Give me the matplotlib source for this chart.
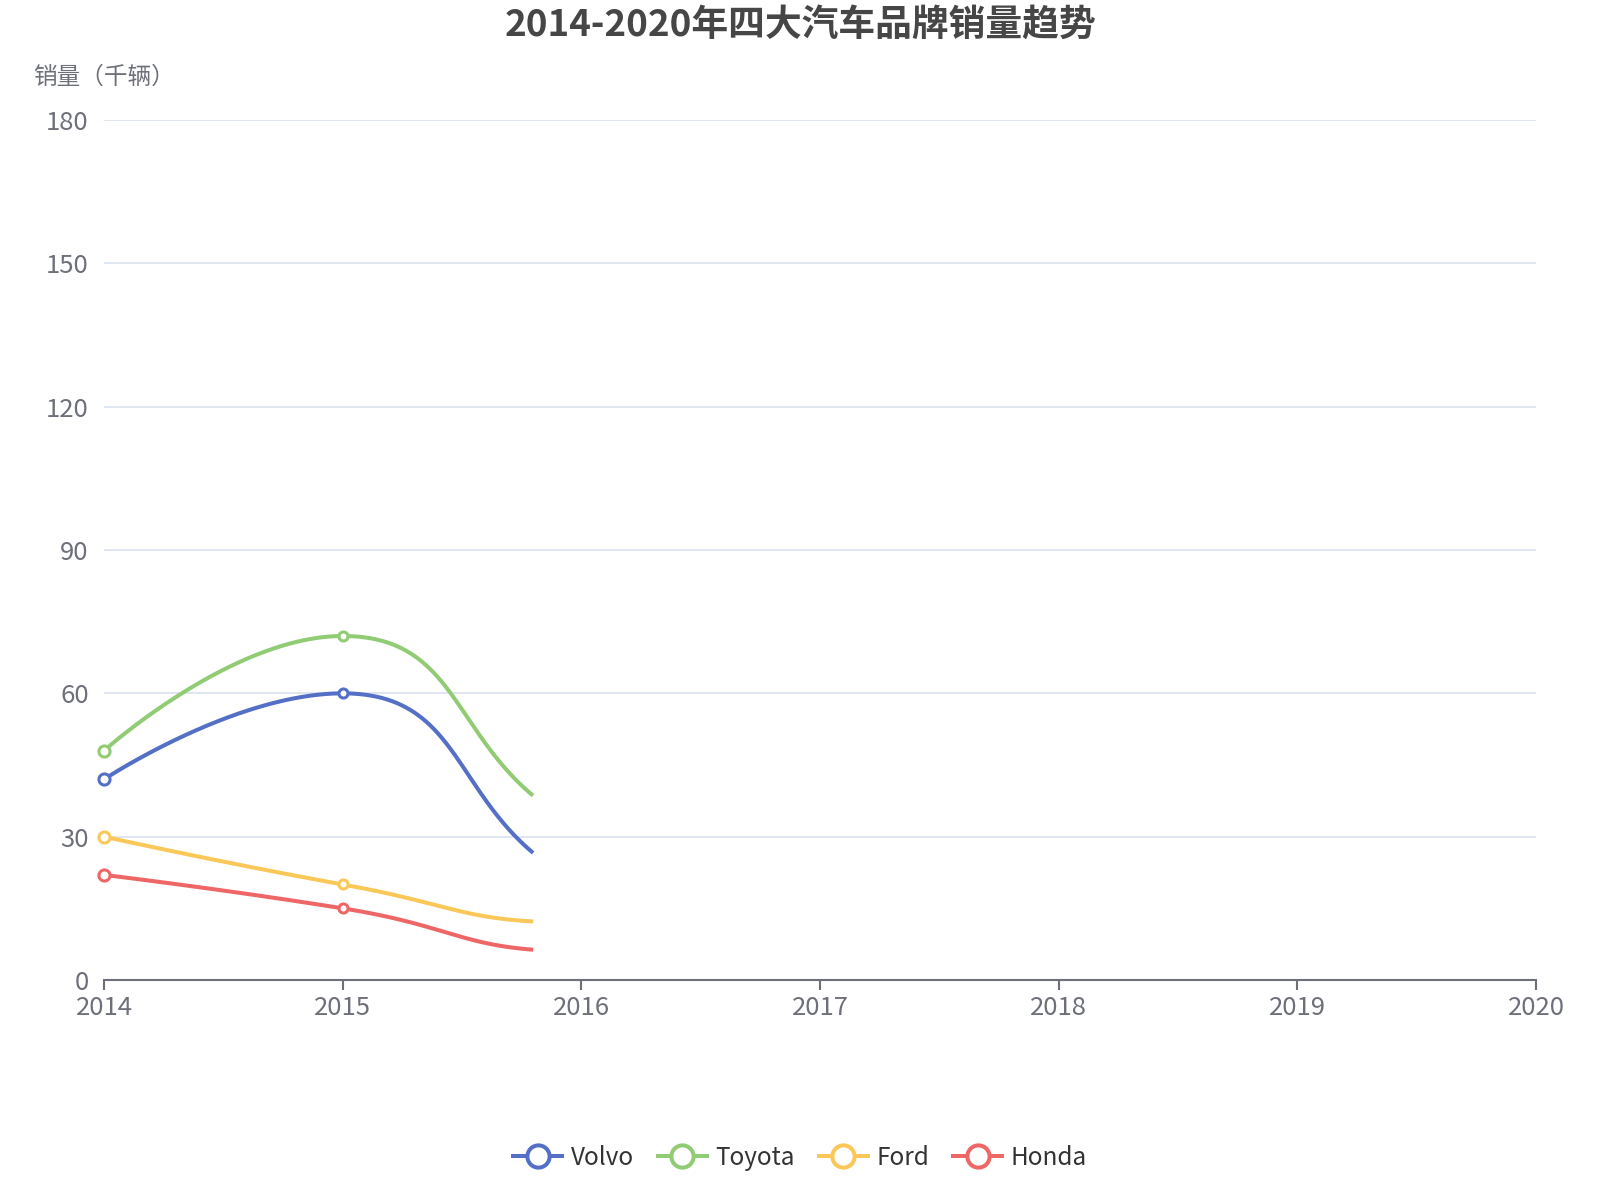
import numpy as np
import matplotlib
matplotlib.use("Agg")
import matplotlib.pyplot as plt
from matplotlib.lines import Line2D

plt.rcParams['font.family'] = ['Noto Sans CJK SC', 'DejaVu Sans']

# ---- data ----
title = "2014-2020年四大汽车品牌销量趋势"
y_name = "销量（千辆）"
years = [2014, 2015, 2016, 2017]
series_names = ["Volvo", "Toyota", "Ford", "Honda"]
volvo = [42, 60, 20, 10]
toyota = [48, 72, 32, 22]
ford = [30, 20, 12, 15]
honda = [22, 15, 6, 9]
x_ticks = [2014, 2015, 2016, 2017, 2018, 2019, 2020]
y_ticks = [0, 30, 60, 90, 120, 150, 180]
reveal_until = 2015.8  # line drawing (animation) stopped here in the reference

colors = ["#5470c6", "#91cc75", "#fac858", "#ee6666"]
values = [volvo, toyota, ford, honda]

W, H = 1600, 1200
fig = plt.figure(figsize=(16, 12), dpi=100)
fig.patch.set_facecolor("white")
left, right, bottom, top = 104 / W, 1536 / W, 1 - 980 / H, 1 - 120 / H
ax = fig.add_axes([left, bottom, right - left, top - bottom])
ax.set_xlim(x_ticks[0], x_ticks[-1])
ax.set_ylim(y_ticks[0], y_ticks[-1])

# pixel scales for ECharts-like smoothing
sx = (right - left) * W / (x_ticks[-1] - x_ticks[0])
sy = (top - bottom) * H / (y_ticks[-1] - y_ticks[0])


def smooth_curve(xs, ys, smooth=0.5, n=400):
    X = np.asarray(xs, float) * sx
    Y = np.asarray(ys, float) * sy
    m = len(X)
    cin = [None] * m
    cout = [None] * m
    for i in range(m):
        if i == 0 or i == m - 1:
            cin[i] = cout[i] = (X[i], Y[i])
            continue
        vx = X[i + 1] - X[i - 1]
        vy = Y[i + 1] - Y[i - 1]
        if (Y[i] - Y[i - 1]) * (Y[i + 1] - Y[i]) <= 0:
            vy = 0.0
        l0 = np.hypot(X[i] - X[i - 1], Y[i] - Y[i - 1])
        l1 = np.hypot(X[i + 1] - X[i], Y[i + 1] - Y[i])
        r = l1 / (l0 + l1)
        cout[i] = (X[i] + vx * smooth * r, Y[i] + vy * smooth * r)
        cin[i] = (X[i] - vx * smooth * (1 - r), Y[i] - vy * smooth * (1 - r))
    px, py = [], []
    t = np.linspace(0, 1, n)
    for i in range(m - 1):
        p0 = np.array([X[i], Y[i]])
        p1 = np.array(cout[i])
        p2 = np.array(cin[i + 1])
        p3 = np.array([X[i + 1], Y[i + 1]])
        b = ((1 - t) ** 3)[:, None] * p0 + (3 * (1 - t) ** 2 * t)[:, None] * p1 \
            + (3 * (1 - t) * t ** 2)[:, None] * p2 + (t ** 3)[:, None] * p3
        px.append(b[:, 0])
        py.append(b[:, 1])
    return np.concatenate(px) / sx, np.concatenate(py) / sy


for name, vals, c in zip(series_names, values, colors):
    cx, cy = smooth_curve(years, vals)
    keep = cx <= reveal_until
    ax.plot(cx[keep], cy[keep], color=c, lw=2.9, solid_capstyle='butt',
            solid_joinstyle='round', zorder=3)
    yr = np.asarray(years)
    vv = np.asarray(vals)
    mk = yr <= reveal_until
    sizes = [8.0 if y == years[0] else 6.5 for y in yr[mk]]
    for xv, yv, s in zip(yr[mk], vv[mk], sizes):
        ax.plot([xv], [yv], linestyle='none', marker='o', ms=s,
                mfc='white', mec=c, mew=2.2, zorder=4, clip_on=False)

# axes styling
for s in ["top", "right", "left"]:
    ax.spines[s].set_visible(False)
ax.spines["bottom"].set_color("#6E7079")
ax.spines["bottom"].set_linewidth(1.5)
ax.set_xticks(x_ticks)
ax.set_xticklabels([str(v) for v in x_ticks])
ax.set_yticks(y_ticks)
ax.set_yticklabels([str(v) for v in y_ticks])
ax.tick_params(axis='x', colors="#6E7079", labelcolor="#6E7079", length=7,
               width=1.5, direction='out', labelsize=18.5, pad=4)
ax.tick_params(axis='y', length=0, labelcolor="#6E7079", labelsize=18.5, pad=11)
ax.yaxis.grid(True, color="#E0E6F1", lw=1.4)
ax.set_axisbelow(True)

# title and axis name
fig.text(0.5, 1 - 25 / H, title, ha='center', va='center', fontsize=26.5,
         fontweight='bold', color="#464646")
fig.text(left, 1 - 77 / H, y_name, ha='center', va='center', fontsize=17,
         color="#6E7079")

# legend
handles = [Line2D([], [], color=c, lw=2.9, marker='o', ms=16, mfc='white',
                  mec=c, mew=2.9) for c in colors]
fig.legend(handles, series_names, loc='center', bbox_to_anchor=(0.5, 1 - 1158 / H),
           ncol=4, frameon=False, fontsize=17.5, handlelength=2.0,
           handletextpad=0.35, columnspacing=1.0, labelcolor="#333333")

fig.savefig("out.png", dpi=100, facecolor="white")
